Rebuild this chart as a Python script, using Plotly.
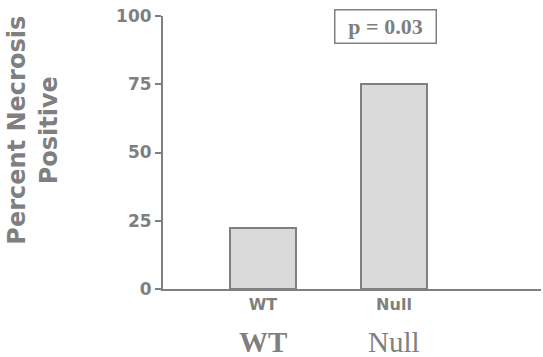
import plotly.graph_objects as go

categories = ["WT", "Null"]
values = [22.5, 75]
y_ticks = [0, 25, 50, 75, 100]
lower_labels = ["WT", "Null"]
p_text = "p = 0.03"

GRAY = "#7f7f7f"
x_pos = list(range(len(categories)))

fig = go.Figure()
fig.add_trace(go.Bar(
    x=x_pos, y=values, width=0.5,
    marker=dict(color="#dadada", line=dict(color="#808080", width=2)),
    showlegend=False, hoverinfo="skip",
))

fig.update_layout(
    width=543, height=357,
    margin=dict(l=163, r=2, t=16, b=68),
    paper_bgcolor="white", plot_bgcolor="white",
    xaxis=dict(
        range=[-0.763, 2.122], tickvals=x_pos, ticktext=categories,
        showline=True, linecolor=GRAY, linewidth=2, ticks="",
        showgrid=False, zeroline=False, automargin=False,
        tickfont=dict(family="DejaVu Sans", size=16, color=GRAY, weight="bold"),
    ),
    yaxis=dict(
        range=[0, 100], tickvals=y_ticks,
        showline=True, linecolor=GRAY, linewidth=2,
        ticks="outside", ticklen=6, tickwidth=2, tickcolor=GRAY,
        showgrid=False, zeroline=False, automargin=False,
        tickfont=dict(family="DejaVu Sans", size=17, color=GRAY, weight="bold"),
    ),
    bargap=0,
)

# lower serif labels
for i, lab in enumerate(lower_labels):
    fig.add_annotation(
        x=x_pos[i], xref="x", y=0, yref="paper", yshift=-53,
        text=lab, showarrow=False, xanchor="center", yanchor="middle",
        font=dict(family="Liberation Serif", size=29, color=GRAY,
                  weight="bold" if i == 0 else "normal"),
    )

# y title
fig.add_annotation(
    x=0, xref="paper", xshift=-130, y=0.58, yref="paper",
    text="Percent Necrosis<br>Positive", textangle=-90, showarrow=False,
    xanchor="center", yanchor="middle",
    font=dict(family="DejaVu Sans", size=24, color=GRAY, weight="bold"),
)

# p-value box
fig.add_annotation(
    x=1, xref="x", xshift=-8, y=100, yref="y", yshift=-10,
    text=p_text, showarrow=False, xanchor="center", yanchor="middle",
    font=dict(family="Liberation Serif", size=22, color=GRAY, weight="bold"),
    bordercolor=GRAY, borderwidth=1.5, borderpad=2, width=96, height=28,
)

fig.write_html("out.html", config={"displayModeBar": False},
               post_script="document.body.style.margin='0';document.body.style.overflow='hidden';")
